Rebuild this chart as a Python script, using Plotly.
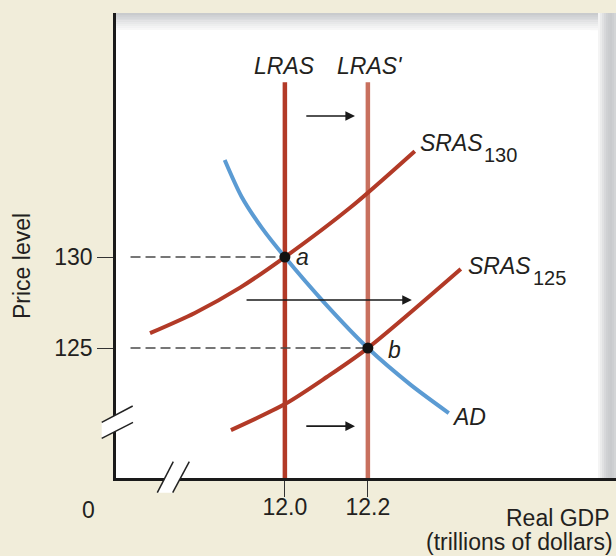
import plotly.graph_objects as go

# ---- data ----
lras_x = [12.0, 12.0]
lras_new_x = [12.2, 12.2]
lras_y = [117.86, 139.6]

ad_x = [11.855, 11.896, 11.945, 12.0, 12.096, 12.2, 12.301, 12.395]
ad_y = [135.33, 133.30, 131.59, 130.0, 127.47, 125.0, 123.02, 121.43]

sras130_x = [11.675, 11.783, 11.892, 12.0, 12.157, 12.313]
sras130_y = [125.82, 126.93, 128.32, 130.0, 132.71, 135.82]

sras125_x = [11.870, 12.0, 12.101, 12.2, 12.424]
sras125_y = [120.49, 121.92, 123.41, 125.0, 129.34]

eq_x = [12.0, 12.2]
eq_y = [130, 125]
eq_names = ["a", "b"]

y_ticks = [125, 130]
y_ticklabels = ["125", "130"]
x_ticks = [12.0, 12.2]
x_ticklabels = ["12.0", "12.2"]

DARK_RED = "#b23a27"
LIGHT_RED = "#c8705e"
BLUE = "#5b9bd3"
INK = "#231f20"
BEIGE = "#f1edda"
FONT = "Liberation Sans"

W, H = 616, 556
L, R, T, B = 116, 0, 13, 78
PW, PH = W - L - R, H - T - B


def px(xp, yp):
    # pixel position -> paper coords (layout only)
    return (xp - L) / PW, (T + PH - yp) / PH


fig = go.Figure()

# vertical LRAS lines
fig.add_trace(go.Scatter(x=lras_x, y=lras_y, mode="lines",
                         line=dict(color=DARK_RED, width=4.5), hoverinfo="skip"))
fig.add_trace(go.Scatter(x=lras_new_x, y=lras_y, mode="lines",
                         line=dict(color=LIGHT_RED, width=4.5), hoverinfo="skip"))

# SRAS curves
fig.add_trace(go.Scatter(x=sras130_x, y=sras130_y, mode="lines",
                         line=dict(color=DARK_RED, width=4, shape="spline", smoothing=0.8),
                         hoverinfo="skip"))
fig.add_trace(go.Scatter(x=sras125_x, y=sras125_y, mode="lines",
                         line=dict(color=DARK_RED, width=4, shape="spline", smoothing=0.8),
                         hoverinfo="skip"))

# AD curve
fig.add_trace(go.Scatter(x=ad_x, y=ad_y, mode="lines",
                         line=dict(color=BLUE, width=4, shape="spline", smoothing=0.8),
                         hoverinfo="skip"))

# dashed guides to the price axis
for xv, yv in zip(eq_x, eq_y):
    fig.add_trace(go.Scatter(x=[11.628, xv], y=[yv, yv], mode="lines",
                             line=dict(color="#4a4a4a", width=1.5, dash="10px,5px"),
                             hoverinfo="skip"))

# equilibrium points
fig.add_trace(go.Scatter(x=eq_x, y=eq_y, mode="markers",
                         marker=dict(color="#111", size=11), hoverinfo="skip"))

shapes = []
# top gray gradient
top_cols = ["#c9cbcd", "#cfd1d3", "#d5d7d9", "#dbdcde", "#e1e2e3", "#e7e8e9",
            "#edeeee", "#f2f2f3", "#f7f7f7"]
n = len(top_cols)
for i, c in enumerate(top_cols):
    y0 = 13 + i * 17 / n
    y1 = 13 + (i + 1) * 17 / n + 0.3
    x0p, y0p = px(116, y0)
    x1p, y1p = px(616, y1)
    shapes.append(dict(type="rect", xref="paper", yref="paper", x0=x0p, x1=x1p,
                       y0=y1p, y1=y0p, fillcolor=c, line_width=0, layer="below"))
# right gray gradient
right_cols = ["#f4f4f4", "#eaebeb", "#e0e1e2", "#d7d8da", "#cfd1d3", "#cbcdcf",
              "#c9cbcd", "#cdcfd1", "#d3d5d6"]
n = len(right_cols)
for i, c in enumerate(right_cols):
    x0 = 598 + i * 18 / n
    x1 = 598 + (i + 1) * 18 / n + 0.3
    x0p, y0p = px(x0, 13)
    x1p, y1p = px(x1, 478)
    shapes.append(dict(type="rect", xref="paper", yref="paper", x0=x0p, x1=x1p,
                       y0=y1p, y1=y0p, fillcolor=c, line_width=0, layer="below"))
# inner white panel with rounded top-right corner
a = px(116, 30); b = px(587, 30); c = px(598, 41); d = px(598, 478); e = px(116, 478)
cq = px(598, 30)
shapes.append(dict(type="path", xref="paper", yref="paper", layer="below",
                   path=f"M{a[0]},{a[1]} L{b[0]},{b[1]} Q{cq[0]},{cq[1]} {c[0]},{c[1]} "
                        f"L{d[0]},{d[1]} L{e[0]},{e[1]} Z",
                   fillcolor="white", line_width=0))


# axis breaks
def brk(p1, p2, p3, p4):
    q = [px(*p) for p in (p1, p2, p3, p4)]
    shapes.append(dict(type="path", xref="paper", yref="paper", layer="above",
                       path="M{},{} L{},{} L{},{} L{},{} Z".format(
                           q[0][0], q[0][1], q[1][0], q[1][1], q[3][0], q[3][1],
                           q[2][0], q[2][1]),
                       fillcolor="white", line_width=0))
    for s, t in ((q[0], q[1]), (q[2], q[3])):
        shapes.append(dict(type="line", xref="paper", yref="paper", layer="above",
                           x0=s[0], y0=s[1], x1=t[0], y1=t[1],
                           line=dict(color="#222", width=1.5)))


brk((101.7, 422.3), (132.7, 406.0), (101.7, 438.3), (133.0, 422.3))
brk((157.3, 492.7), (173.3, 461.7), (172.7, 492.7), (189.3, 461.7))

annotations = []
# shift arrows
for x0, x1, yv in ((12.048, 12.169, 137.75), (11.904, 12.306, 127.64), (12.048, 12.169, 120.71)):
    annotations.append(dict(x=x1, y=yv, ax=x0, ay=yv, xref="x", yref="y", axref="x", ayref="y",
                            text="", showarrow=True, arrowhead=2, arrowsize=1.2,
                            arrowwidth=1.6, arrowcolor="#1a1a1a"))

ital = dict(family=FONT, size=23, color=INK)
sub = dict(family=FONT, size=20, color=INK)


def lab(text, x, y, font, xanchor="center", ref="data"):
    d = dict(text=text, x=x, y=y, showarrow=False, font=font, xanchor=xanchor,
             yanchor="middle", borderpad=0)
    if ref == "data":
        d.update(xref="x", yref="y")
    else:
        d.update(xref="paper", yref="paper")
    annotations.append(d)


lab("<i>LRAS</i>", 12.0, 140.49, ital)
lab("<i>LRAS'</i>", 12.205, 140.49, ital)
lab("<i>SRAS</i>", 12.324, 136.24, ital, "left")
lab("130", 12.478, 135.63, sub, "left")
lab("<i>SRAS</i>", 12.440, 129.52, ital, "left")
lab("125", 12.596, 128.87, sub, "left")
lab("<i>AD</i>", 12.400, 121.23, ital, "left")
for xv, yv, nm, dx, dy in zip(eq_x, eq_y, eq_names, [0.043, 0.063], [0.0, -0.11]):
    lab(f"<i>{nm}</i>", xv + dx, yv + dy, ital)

reg = dict(family=FONT, size=23, color=INK)
x0p, y0p = px(88.6, 510)
lab("0", x0p, y0p, reg, "center", ref="paper")
xp_, yp_ = px(611, 518)
lab("Real GDP", xp_, yp_, reg, "right", ref="paper")
xp_, yp_ = px(614, 542)
lab("(trillions of dollars)", xp_, yp_, reg, "right", ref="paper")
xp_, yp_ = px(22, 266)
annotations.append(dict(text="Price level", x=xp_, y=yp_, xref="paper", yref="paper",
                        showarrow=False, textangle=-90, font=reg,
                        xanchor="center", yanchor="middle"))

fig.update_layout(
    width=W, height=H,
    margin=dict(l=L, r=R, t=T, b=B),
    paper_bgcolor=BEIGE, plot_bgcolor="white",
    showlegend=False,
    shapes=shapes, annotations=annotations,
    font=dict(family=FONT, size=23, color=INK),
)
fig.update_xaxes(range=[11.593, 12.798], showgrid=False, zeroline=False,
                 showline=True, linecolor="#1a1a1a", linewidth=2.5,
                 ticks="outside", ticklen=16, tickwidth=1.3, tickcolor="#333",
                 tickvals=x_ticks, ticktext=x_ticklabels,
                 tickfont=reg, ticklabelstandoff=-9, fixedrange=True)
fig.update_yaxes(range=[117.86, 143.41], showgrid=False, zeroline=False,
                 showline=True, linecolor="#1a1a1a", linewidth=2.5,
                 ticks="outside", ticklen=16, tickwidth=1.3, tickcolor="#333",
                 tickvals=y_ticks, ticktext=y_ticklabels,
                 tickfont=reg, ticklabelstandoff=0, fixedrange=True)

fig.write_html("out.html", config=dict(displayModeBar=False),
               post_script="document.body.style.margin='0';"
                           "document.body.style.background='%s';" % BEIGE)
